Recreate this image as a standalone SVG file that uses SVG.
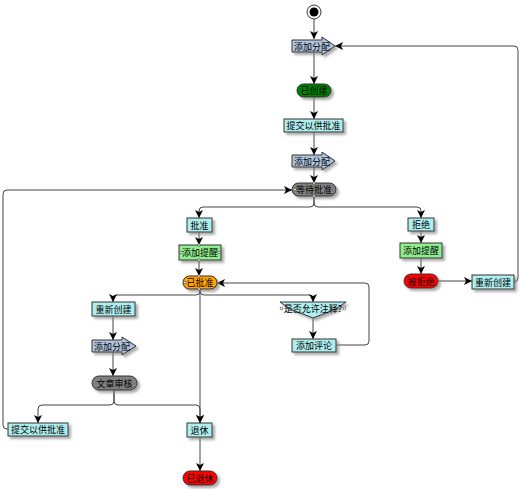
<svg xmlns="http://www.w3.org/2000/svg" width="521" height="489" viewBox="0 0 521 489">
<style>
text{font-family:"Noto Sans CJK SC","Noto Sans",sans-serif;font-size:9px;fill:#000;text-anchor:middle;dominant-baseline:central}
.box{fill:#AFEEEE;stroke:#333;stroke-width:1}
.asg{fill:#B0C4DE;stroke:#333;stroke-width:1}
.grn{fill:#90EE90;stroke:#333;stroke-width:1}
.pill{stroke:#333;stroke-width:1}
.sh{filter:url(#ds)}
.e{fill:none;stroke:#444;stroke-width:1;marker-end:url(#ah)}
.port{fill:#fff;stroke:#333;stroke-width:0.6}
</style>
<defs>
<filter id="ds" x="-20%" y="-30%" width="150%" height="180%">
<feDropShadow dx="2.5" dy="2.5" stdDeviation="1" flood-color="#888" flood-opacity="0.7"/>
</filter>
<marker id="ah" viewBox="0 0 8 8" refX="8" refY="4" markerWidth="8" markerHeight="8" markerUnits="userSpaceOnUse" orient="auto">
<path d="M0,0 L8,4 L0,8 L2,4 Z" fill="#000"/>
</marker>
</defs>
<rect width="521" height="489" fill="#fff"/>
<g id="connectors">
<path class="e" d="M314,19 V39"/>
<path class="e" d="M314,52 V84"/>
<path class="e" d="M314,97 V119"/>
<path class="e" d="M314,132 V155"/>
<path class="e" d="M314,167 V183"/>
<path class="e" d="M8,429 H7 Q3,429 3,425 V194 Q3,190 7,190 H292"/>
<path class="e" d="M314,196 V203 Q314,207 310,207 H203 Q199,207 199,211 V218"/>
<path class="e" d="M314,196 V203 Q314,207 318,207 H417 Q421,207 421,211 V218"/>
<path class="e" d="M199,232 V245"/>
<path class="e" d="M199,260 V276"/>
<path class="e" d="M421,231 V243"/>
<path class="e" d="M421,258 V274"/>
<path class="e" d="M438,281 H472"/>
<path class="e" d="M514,282 Q518,282 518,278 V50 Q518,46 514,46 H335"/>
<path class="e" d="M200,289 V291 Q200,295 196,295 H117 Q113,295 113,299 V302"/>
<path class="e" d="M200,289 V291 Q200,295 204,295 H309 Q313,295 313,299 V302"/>
<path class="e" d="M200,289 V423"/>
<path class="e" d="M313,318 V339"/>
<path class="e" d="M336,345 H365 Q369,345 369,341 V287 Q369,283 365,283 H217"/>
<path class="e" d="M113,316 V340"/>
<path class="e" d="M113,352 V376"/>
<path class="e" d="M114,390 V401 Q114,405 110,405 H42 Q38,405 38,409 V423"/>
<path class="e" d="M114,390 V401 Q114,405 118,405 H196 Q200,405 200,409 V423"/>
<path class="e" d="M200,437 V471"/>
</g>
<g id="start">
<circle cx="314" cy="12" r="7" fill="#fff" stroke="#333"/>
<circle cx="314" cy="12" r="4.5" fill="#000"/>
</g>
<g id="assign1">
<path class="asg sh" d="M292,40 H322 V37 L335,46 L322,55 V52 H292 Z"/>
<text x="312" y="46">添加分配</text>
</g>
<g id="created">
<rect class="pill sh" x="297" y="84" width="34" height="13" rx="6.5" fill="#008000"/>
<text x="314" y="90.5">已创建</text>
</g>
<g id="submit1">
<rect class="box sh" x="284" y="119" width="59" height="13"/>
<text x="313.5" y="125.5">提交以供批准</text>
</g>
<g id="assign2">
<path class="asg sh" d="M292,155 H322 V152 L335,161 L322,170 V167 H292 Z"/>
<text x="312" y="161">添加分配</text>
</g>
<g id="pending">
<rect class="pill sh" x="292" y="183" width="44" height="13" rx="6.5" fill="#808080"/>
<text x="314" y="189.5">等待批准</text>
<circle class="port" cx="295" cy="189.5" r="1.3"/>
<circle class="port" cx="314" cy="183" r="1.3"/>
<circle class="port" cx="314" cy="196" r="1.3"/>
</g>
<g id="approve">
<rect class="box sh" x="187" y="218" width="25" height="14"/>
<text x="199.5" y="225">批准</text>
</g>
<g id="remind1">
<rect class="grn sh" x="179" y="245" width="42" height="15"/>
<text x="200" y="252.5">添加提醒</text>
<circle class="port" cx="181" cy="252.5" r="1.3"/>
<circle class="port" cx="219" cy="252.5" r="1.3"/>
<circle class="port" cx="199" cy="245" r="1.3"/>
<circle class="port" cx="199" cy="260" r="1.3"/>
</g>
<g id="approved">
<rect class="pill sh" x="183" y="276" width="34" height="13" rx="6.5" fill="#FFA500"/>
<text x="200" y="282.5">已批准</text>
<circle class="port" cx="185" cy="282.5" r="1.3"/>
<circle class="port" cx="199" cy="276" r="1.3"/>
<circle class="port" cx="199" cy="289" r="1.3"/>
</g>
<g id="reject">
<rect class="box sh" x="408" y="218" width="26" height="13"/>
<text x="421" y="224.5">拒绝</text>
</g>
<g id="remind2">
<rect class="grn sh" x="400" y="243" width="42" height="15"/>
<text x="421" y="250.5">添加提醒</text>
</g>
<g id="rejected">
<rect class="pill sh" x="404" y="274" width="34" height="14" rx="7" fill="#FF0000"/>
<text x="421" y="281">被拒绝</text>
</g>
<g id="recreate1">
<rect class="box sh" x="472" y="275" width="42" height="14"/>
<text x="493" y="282">重新创建</text>
</g>
<g id="recreate2">
<rect class="box sh" x="92" y="302" width="43" height="14"/>
<text x="113.5" y="309">重新创建</text>
</g>
<g id="allowcomment">
<path class="box sh" d="M280,302 H346 L336,309 L313,318 L290,309 Z"/>
<text x="313" y="308.5">是否允许注释?</text>
<circle class="port" cx="281.5" cy="308.5" r="1.3"/>
<circle class="port" cx="344.5" cy="308.5" r="1.3"/>
</g>
<g id="addcomment">
<rect class="box sh" x="292" y="339" width="44" height="13"/>
<text x="314" y="345.5">添加评论</text>
</g>
<g id="assign3">
<path class="asg sh" d="M92,340 H122 V337 L136,346 L122,355 V352 H92 Z"/>
<text x="112" y="346">添加分配</text>
</g>
<g id="review">
<rect class="pill sh" x="92" y="376" width="45" height="14" rx="7" fill="#808080"/>
<text x="114.5" y="383">文章审核</text>
</g>
<g id="submit2">
<rect class="box sh" x="8" y="423" width="60" height="13"/>
<text x="38" y="429.5">提交以供批准</text>
</g>
<g id="retire">
<rect class="box sh" x="187" y="423" width="25" height="14"/>
<text x="199.5" y="430">退休</text>
</g>
<g id="retired">
<rect class="pill sh" x="183" y="471" width="34" height="14" rx="7" fill="#FF0000"/>
<text x="200" y="478">已退休</text>
</g>
</svg>
